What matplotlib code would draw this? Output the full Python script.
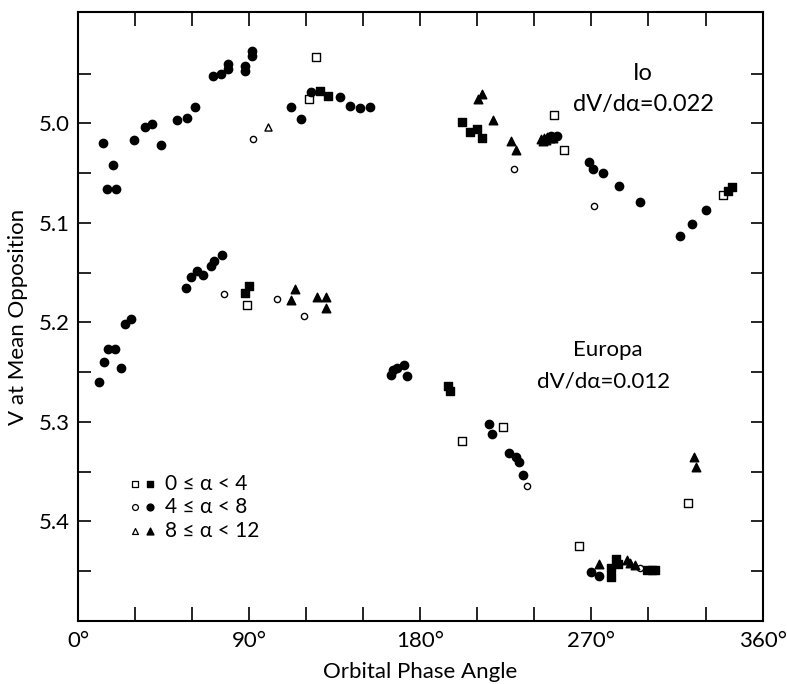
import matplotlib
matplotlib.use("Agg")
import matplotlib.pyplot as plt
from matplotlib.ticker import FixedLocator, FuncFormatter

plt.rcParams['font.family'] = ['Lato', 'DejaVu Sans']
plt.rcParams['font.weight'] = 'normal'

# Io  (orbital phase in degrees, V magnitude)
io_open_sq_x = [125.1, 121.4, 250.4, 255.3, 339.2]
io_open_sq_y = [4.933, 4.975, 4.992, 5.027, 5.072]
io_fill_sq_x = [127.2, 131.3, 201.7, 206.3, 209.8, 212.3, 341.6, 343.9]
io_fill_sq_y = [4.9675, 4.9725, 4.9987, 5.0083, 5.006, 5.0148, 5.0674, 5.064]
io_open_ci_x = [91.8, 229.4, 271.1]
io_open_ci_y = [5.016, 5.046, 5.0825]
io_fill_ci_x = [13.2, 14.9, 19.8, 18.4, 29.3, 35.1, 38.6, 43.4, 52.1, 57.4, 61.4,
                70.7, 75.1, 78.9, 78.9, 87.7, 87.7, 91.6, 91.6, 111.8, 117.4, 122.3,
                137.7, 143.0, 148.3, 153.5, 248.8, 251.8, 268.9, 270.7, 276.0,
                284.7, 295.5, 316.7, 323.0, 330.0]
io_fill_ci_y = [5.020, 5.066, 5.066, 5.042, 5.017, 5.004, 5.001, 5.022, 4.997, 4.995, 4.983,
                4.952, 4.950, 4.940, 4.945, 4.942, 4.947, 4.927, 4.932, 4.983, 4.996, 4.968,
                4.973, 4.982, 4.985, 4.983, 5.013, 5.013, 5.0385, 5.0456, 5.050,
                5.063, 5.079, 5.1134, 5.1006, 5.0868]
io_open_tr_x = [100.0]
io_open_tr_y = [5.0037]
io_fill_tr_x = [212.3, 210.2, 218.1, 227.6, 230.4, 243.5, 245.1, 246.7, 248.3, 249.8, 246.2, 244.6]
io_fill_tr_y = [4.970, 4.975, 4.9968, 5.0174, 5.0265, 5.016, 5.015, 5.014, 5.0146, 5.015, 5.017, 5.0176]

# Europa
eu_open_sq_x = [88.9, 202.1, 223.2, 263.2, 320.7]
eu_open_sq_y = [5.1824, 5.3192, 5.3051, 5.4242, 5.3816]
eu_fill_sq_x = [87.7, 89.7, 194.7, 195.6, 280.2, 280.4, 282.8, 284.2, 299.2, 301.8, 303.5]
eu_fill_sq_y = [5.1703, 5.1637, 5.2636, 5.2693, 5.447, 5.4554, 5.438, 5.443, 5.449, 5.449, 5.449]
eu_open_ci_x = [76.8, 104.7, 118.9, 236.0, 295.6]
eu_open_ci_y = [5.171, 5.176, 5.1939, 5.3642, 5.447]
eu_fill_ci_x = [11.1, 13.5, 15.8, 19.3, 22.3, 24.8, 27.6, 56.7, 59.3, 62.3, 65.8, 69.7,
                71.4, 75.8, 164.4, 165.8, 167.6, 171.4, 172.8, 216.3, 217.6, 226.8,
                230.4, 232.0, 234.2, 269.7, 274.1]
eu_fill_ci_y = [5.260, 5.240, 5.227, 5.2267, 5.2458, 5.202, 5.1965, 5.1653, 5.1546, 5.1486,
                5.152, 5.1429, 5.1378, 5.1325, 5.2525, 5.2475, 5.2458, 5.2425, 5.2535,
                5.3018, 5.3119, 5.3307, 5.3353, 5.3403, 5.3531, 5.4504, 5.4544]
eu_fill_tr_x = [112.0, 114.1, 125.6, 130.4, 130.4, 323.7, 324.9, 274.2, 288.6, 290.4, 293.0]
eu_fill_tr_y = [5.177, 5.1663, 5.174, 5.174, 5.185, 5.3347, 5.3448, 5.4427, 5.439, 5.442, 5.444]

legend_labels = ['0 ≤ α < 4', '4 ≤ α < 8', '8 ≤ α < 12']

fig = plt.figure(figsize=(7.87, 6.84), dpi=100)
ax = fig.add_axes([0.0995, 0.0921, 0.8694, 0.8904])

k = dict(color='black', zorder=3)
ax.scatter(io_open_sq_x, io_open_sq_y, marker='s', s=26, facecolors='white', edgecolors='black', linewidths=1.0, zorder=3)
ax.scatter(eu_open_sq_x, eu_open_sq_y, marker='s', s=26, facecolors='white', edgecolors='black', linewidths=1.0, zorder=3)
ax.scatter(io_fill_sq_x, io_fill_sq_y, marker='s', s=32, **k)
ax.scatter(eu_fill_sq_x, eu_fill_sq_y, marker='s', s=32, **k)
ax.scatter(io_open_ci_x, io_open_ci_y, marker='o', s=20, facecolors='white', edgecolors='black', linewidths=1.0, zorder=3)
ax.scatter(eu_open_ci_x, eu_open_ci_y, marker='o', s=20, facecolors='white', edgecolors='black', linewidths=1.0, zorder=3)
ax.scatter(io_fill_ci_x, io_fill_ci_y, marker='o', s=36, **k)
ax.scatter(eu_fill_ci_x, eu_fill_ci_y, marker='o', s=36, **k)
ax.scatter(io_open_tr_x, io_open_tr_y, marker='^', s=26, facecolors='white', edgecolors='black', linewidths=1.0, zorder=3)
ax.scatter(io_fill_tr_x, io_fill_tr_y, marker='^', s=38, **k)
ax.scatter(eu_fill_tr_x, eu_fill_tr_y, marker='^', s=38, **k)

ax.set_xlim(0, 360)
ax.set_ylim(5.5, 4.888)

ax.xaxis.set_major_locator(FixedLocator(range(0, 361, 30)))
ax.xaxis.set_major_formatter(FuncFormatter(lambda v, p: f'{int(v)}°' if v % 90 == 0 else ''))
ax.yaxis.set_major_locator(FixedLocator([4.95 + 0.05 * i for i in range(11)]))
ax.yaxis.set_major_formatter(FuncFormatter(lambda v, p: f'{v:.1f}' if abs(v * 10 - round(v * 10)) < 1e-6 and v < 5.45 else ''))
ax.tick_params(axis='both', direction='in', length=9, width=1.2, top=True, right=True,
               labelsize=16, pad=6)
ax.tick_params(axis='x', length=10, pad=7)
for sp in ax.spines.values():
    sp.set_linewidth(1.5)

ax.set_xlabel('Orbital Phase Angle', fontsize=16, labelpad=8)
ax.set_ylabel('V at Mean Opposition', fontsize=16, labelpad=8)

ax.text(297.2, 4.950, 'Io', fontsize=17, ha='center', va='center')
ax.text(297.2, 4.981, 'dV/dα=0.022', fontsize=17, ha='center', va='center')
ax.text(278.8, 5.228, 'Europa', fontsize=16, ha='center', va='center')
ax.text(276.2, 5.2596, 'dV/dα=0.012', fontsize=16, ha='center', va='center')

# symbol key
key_y = [0.2250, 0.1872, 0.1478]
key_m = ['s', 'o', '^']
for yy, mk, lab in zip(key_y, key_m, legend_labels):
    ax.scatter([0.0829], [yy], marker=mk, s=18, facecolors='white', edgecolors='black',
               linewidths=0.9, transform=ax.transAxes, zorder=3)
    ax.scatter([0.1048], [yy], marker=mk, s=24, color='black', transform=ax.transAxes, zorder=3)
    ax.text(0.1267, yy, lab, fontsize=15, ha='left', va='center', transform=ax.transAxes)

fig.savefig('out.png', dpi=100)
